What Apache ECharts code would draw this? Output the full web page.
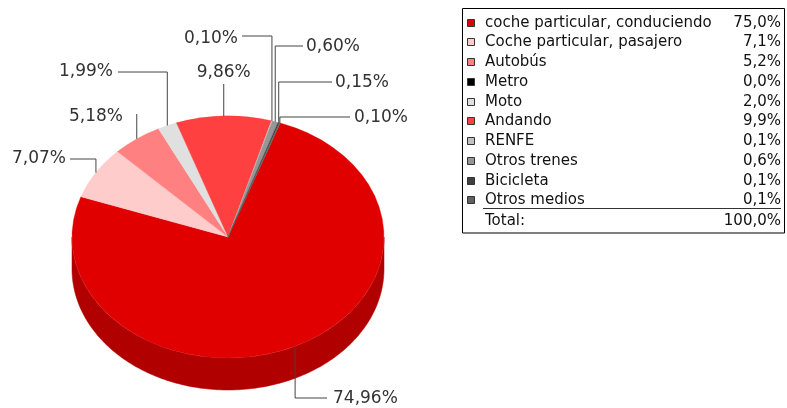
<!DOCTYPE html>
<html>
<head>
<meta charset="utf-8">
<script src="https://cdn.jsdelivr.net/npm/echarts@6/dist/echarts.min.js"></script>
<style>
  html, body { margin: 0; padding: 0; background: #fff; }
  #chart { width: 787px; height: 408px; }
</style>
</head>
<body>
<div id="chart"></div>
<script>
// datos de la figura
const categories = [
  'coche particular, conduciendo',
  'Coche particular, pasajero',
  'Autobús',
  'Metro',
  'Moto',
  'Andando',
  'RENFE',
  'Otros trenes',
  'Bicicleta',
  'Otros medios'
];
const values = [74.96, 7.07, 5.18, 0.00, 1.99, 9.86, 0.10, 0.60, 0.15, 0.10];
const legendValues = ['75,0%', '7,1%', '5,2%', '0,0%', '2,0%', '9,9%', '0,1%', '0,6%', '0,1%', '0,1%'];
const totalLabel = '100,0%';

const topColors = ['#E00000', '#FFCCCC', '#FF8080', '#000000', '#E0E0E0', '#FF4040', '#C0C0C0', '#969696', '#404040', '#606060'];
const sideColors = ['#B00000', '#CCA3A3', '#CC6666', '#000000', '#B3B3B3', '#CC3333', '#9A9A9A', '#787878', '#333333', '#4D4D4D'];

// geometría del pastel 3D
const cx = 228, cy = 237, rx = 156, ry = 121, depth = 32;
const startDeg = 19.6;
const FONT = '"DejaVu Sans", sans-serif';

// posición de las etiquetas (codo de la línea y texto)
const labelLayout = [
  { ey: 398, ex: 327, tx: 333, ty: 399, align: 'left' },
  { ey: 159, ex: 70, tx: 66, ty: 159, align: 'right' },
  { ey: 114, ex: null, tx: 123, ty: 117, align: 'right' },
  null,
  { ey: 72, ex: 118, tx: 113, ty: 72, align: 'right' },
  { ey: 84, ex: null, tx: null, ty: 73, align: 'center' },
  { ey: 36, ex: 242, tx: 238, ty: 39, align: 'right' },
  { ey: 46, ex: 303, tx: 306, ty: 47, align: 'left' },
  { ey: 82, ex: 332, tx: 335, ty: 83, align: 'left' },
  { ey: 117, ex: 350, tx: 354, ty: 118, align: 'left' }
];

const total = values.reduce((a, b) => a + b, 0);

function rim(deg, dy) {
  const t = deg * Math.PI / 180;
  return [cx + rx * Math.sin(t), cy - ry * Math.cos(t) + (dy || 0)];
}

function sliceRange(i) {
  let acc = 0;
  for (let k = 0; k < i; k++) acc += values[k];
  const a1 = startDeg + acc / total * 360;
  const a2 = a1 + values[i] / total * 360;
  return [a1, a2];
}

function renderItem(params, api) {
  const i = params.dataIndex;
  const v = api.value(0);
  if (!v) return { type: 'group', children: [] };
  const [a1, a2] = sliceRange(i);
  const children = [];

  // pared lateral visible (mitad frontal)
  [[90, 270], [450, 630]].forEach(([f1, f2]) => {
    const s = Math.max(a1, f1), e = Math.min(a2, f2);
    if (e > s) {
      const pts = [];
      for (let d = s; d < e; d += 1) pts.push(rim(d));
      pts.push(rim(e));
      for (let d = e; d > s; d -= 1) pts.push(rim(d, depth));
      pts.push(rim(s, depth));
      children.push({
        type: 'polygon', z2: 0,
        shape: { points: pts },
        style: { fill: sideColors[i], stroke: sideColors[i], lineWidth: 0.5 }
      });
    }
  });

  // cara superior
  children.push({
    type: 'sector', z2: 1,
    originX: cx, originY: cy, scaleY: ry / rx,
    shape: {
      cx: cx, cy: cy, r: rx, r0: 0,
      startAngle: (a1 - 90) * Math.PI / 180,
      endAngle: (a2 - 90) * Math.PI / 180,
      clockwise: true
    },
    style: { fill: topColors[i], stroke: topColors[i], lineWidth: 0.4 }
  });

  // etiqueta con línea guía
  const L = labelLayout[i];
  if (L) {
    const mid = (a1 + a2) / 2;
    const p = rim(mid);
    const pts = [p, [p[0], L.ey]];
    if (L.ex !== null) pts.push([L.ex, L.ey]);
    children.push({
      type: 'polyline', z2: 3,
      shape: { points: pts },
      style: { stroke: '#444', lineWidth: 1, fill: null }
    });
    children.push({
      type: 'text', z2: 4,
      x: L.tx === null ? p[0] : L.tx,
      y: L.ty,
      style: {
        text: v.toFixed(2).replace('.', ',') + '%',
        font: '17px ' + FONT,
        fill: '#333',
        align: L.align,
        verticalAlign: 'middle'
      }
    });
  }
  return { type: 'group', children: children };
}

// leyenda como tabla
const legendX = 462.5, legendY = 8.5, legendW = 322, legendH = 224.5;
const rowY0 = 22.7, rowStep = 19.75;
const legendGraphics = [{
  type: 'rect',
  shape: { x: legendX, y: legendY, width: legendW, height: legendH },
  style: { fill: '#fff', stroke: '#000', lineWidth: 1 }
}];
categories.forEach((name, i) => {
  const y = rowY0 + i * rowStep;
  legendGraphics.push({
    type: 'rect',
    shape: { x: 467.5, y: Math.round(y) - 3.5, width: 7, height: 7 },
    style: { fill: topColors[i], stroke: '#333', lineWidth: 1 }
  });
  legendGraphics.push({
    type: 'text', x: 485, y: y,
    style: { text: name, font: '15px ' + FONT, fill: '#111', verticalAlign: 'middle' }
  });
  legendGraphics.push({
    type: 'text', x: 781, y: y,
    style: { text: legendValues[i], font: '15px ' + FONT, fill: '#111', align: 'right', verticalAlign: 'middle' }
  });
});
legendGraphics.push({
  type: 'line',
  shape: { x1: 483, y1: 208.5, x2: 781, y2: 208.5 },
  style: { stroke: '#333', lineWidth: 1 }
});
legendGraphics.push({
  type: 'text', x: 485, y: rowY0 + 10 * rowStep + 1,
  style: { text: 'Total:', font: '15px ' + FONT, fill: '#111', verticalAlign: 'middle' }
});
legendGraphics.push({
  type: 'text', x: 781, y: rowY0 + 10 * rowStep + 1,
  style: { text: totalLabel, font: '15px ' + FONT, fill: '#111', align: 'right', verticalAlign: 'middle' }
});

const myChart = echarts.init(document.getElementById('chart'));
myChart.setOption({
  animation: false,
  backgroundColor: '#fff',
  graphic: legendGraphics,
  series: [{
    type: 'custom',
    coordinateSystem: 'none',
    renderItem: renderItem,
    data: values.map((v, i) => ({ name: categories[i], value: [v] }))
  }]
});
</script>
</body>
</html>
